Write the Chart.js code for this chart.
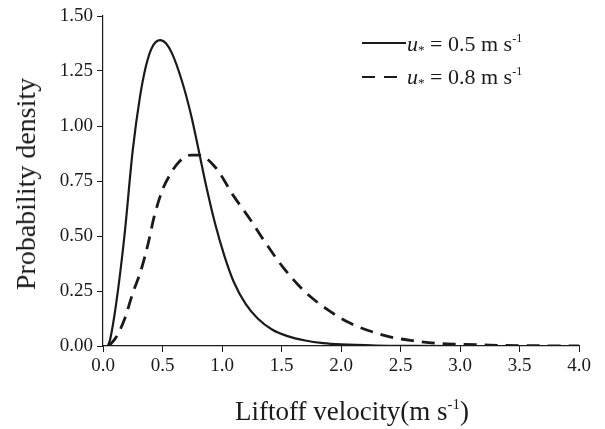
<!DOCTYPE html>
<html>
<head>
<meta charset="utf-8">
<script src="https://cdn.jsdelivr.net/npm/chart.js@4.4.1/dist/chart.umd.min.js"></script>
<style>
  html, body { margin: 0; padding: 0; background: #fff; }
  #wrap { position: relative; width: 605px; height: 429px; overflow: hidden; font-family: "Liberation Serif", "Times New Roman", serif; color: #1a1a1a; }
  #c { position: absolute; left: 0; top: 0; }
  .txt { position: absolute; white-space: nowrap; line-height: 1; }
  .sup { font-size: 0.55em; vertical-align: 0.75em; }
  .sub { font-size: 0.6em; vertical-align: -0.2em; }
  .lg { font-size: 22px; }
  .sample { position: absolute; height: 0; }
</style>
</head>
<body>
<div id="wrap">
  <canvas id="c" width="605" height="429"></canvas>
  <div class="sample" style="left:362px; top:42px; width:44px; border-top:2.2px solid #1a1a1a;"></div>
  <div class="txt lg" style="left:407px; top:32px;"><i>u</i><span class="sub">*</span> = 0.5 m s<span class="sup">-1</span></div>
  <div class="sample" style="left:362px; top:76px; width:13px; border-top:2.8px solid #1a1a1a;"></div>
  <div class="sample" style="left:384px; top:76px; width:13px; border-top:2.8px solid #1a1a1a;"></div>
  <div class="txt lg" style="left:407px; top:65px;"><i>u</i><span class="sub">*</span> = 0.8 m s<span class="sup">-1</span></div>
  <div class="txt" style="left:26px; top:184px; font-size:28px; transform: translate(-50%,-50%) rotate(-90deg);">Probability density</div>
  <div class="txt" style="left:352px; top:397px; font-size:27px; transform: translateX(-50%);">Liftoff velocity(m s<span class="sup">-1</span>)</div>
</div>
<script>
// Series
const solidX = [0.04, 0.06, 0.11, 0.18, 0.25, 0.31, 0.36, 0.41, 0.48, 0.53, 0.58, 0.66, 0.74, 0.80, 0.87, 0.94, 1.02, 1.10, 1.20, 1.30, 1.42, 1.55, 1.70, 1.85, 2.00, 2.30, 2.60, 3.00, 3.50, 4.00];
const solidY = [0.00, 0.03, 0.19, 0.50, 0.89, 1.13, 1.27, 1.355, 1.39, 1.375, 1.33, 1.21, 1.05, 0.90, 0.72, 0.56, 0.41, 0.29, 0.19, 0.125, 0.075, 0.045, 0.025, 0.013, 0.007, 0.002, 0.0005, 0.0, 0.0, 0.0];
const dashX = [0.05, 0.11, 0.18, 0.25, 0.32, 0.38, 0.43, 0.50, 0.57, 0.64, 0.74, 0.80, 0.94, 1.10, 1.24, 1.35, 1.51, 1.69, 1.89, 2.08, 2.30, 2.42, 2.61, 2.81, 3.01, 3.25, 3.50, 4.00];
const dashY = [0.00, 0.04, 0.12, 0.24, 0.345, 0.467, 0.588, 0.71, 0.785, 0.838, 0.868, 0.868, 0.815, 0.68, 0.573, 0.482, 0.36, 0.25, 0.164, 0.103, 0.058, 0.040, 0.024, 0.012, 0.008, 0.004, 0.002, 0.0];
const seriesNames = ["u* = 0.5 m s-1", "u* = 0.8 m s-1"];
const xTicks = [0, 0.5, 1.0, 1.5, 2.0, 2.5, 3.0, 3.5, 4.0];
const yTicks = [0, 0.25, 0.5, 0.75, 1.0, 1.25, 1.5];

const toPts = (xs, ys) => xs.map((x, i) => ({ x: x, y: ys[i] }));
const ink = '#1a1a1a';
const tickFont = { family: '"Liberation Serif", "Times New Roman", serif', size: 19 };

new Chart(document.getElementById('c'), {
  type: 'line',
  data: {
    datasets: [
      { label: seriesNames[0], data: toPts(solidX, solidY), borderColor: ink, borderWidth: 2.2, pointRadius: 0, fill: false, cubicInterpolationMode: 'monotone' },
      { label: seriesNames[1], data: toPts(dashX, dashY), borderColor: ink, borderWidth: 2.8, borderDash: [13, 8], pointRadius: 0, fill: false, cubicInterpolationMode: 'monotone' }
    ]
  },
  options: {
    responsive: false,
    animation: false,
    layout: { padding: { top: 16, right: 26, left: 0, bottom: 0 } },
    plugins: { legend: { display: false }, tooltip: { enabled: false } },
    scales: {
      x: {
        type: 'linear', min: 0, max: 4,
        afterBuildTicks: s => { s.ticks = xTicks.map(v => ({ value: v })); },
        afterFit: s => { s.height = 83; },
        ticks: { font: tickFont, color: ink, padding: 3, maxRotation: 0, callback: v => Number(v).toFixed(1) },
        grid: { drawOnChartArea: false, drawTicks: true, tickLength: 6, color: ink, tickWidth: 1 },
        border: { display: true, color: ink, width: 1.2 }
      },
      y: {
        type: 'linear', min: 0, max: 1.5,
        afterBuildTicks: s => { s.ticks = yTicks.map(v => ({ value: v })); },
        afterFit: s => { s.width = 103; },
        ticks: { font: tickFont, color: ink, padding: 4, callback: v => Number(v).toFixed(2) },
        grid: { drawOnChartArea: false, drawTicks: true, tickLength: 6, color: ink, tickWidth: 1 },
        border: { display: true, color: ink, width: 1.2 }
      }
    }
  }
});
</script>
</body>
</html>
